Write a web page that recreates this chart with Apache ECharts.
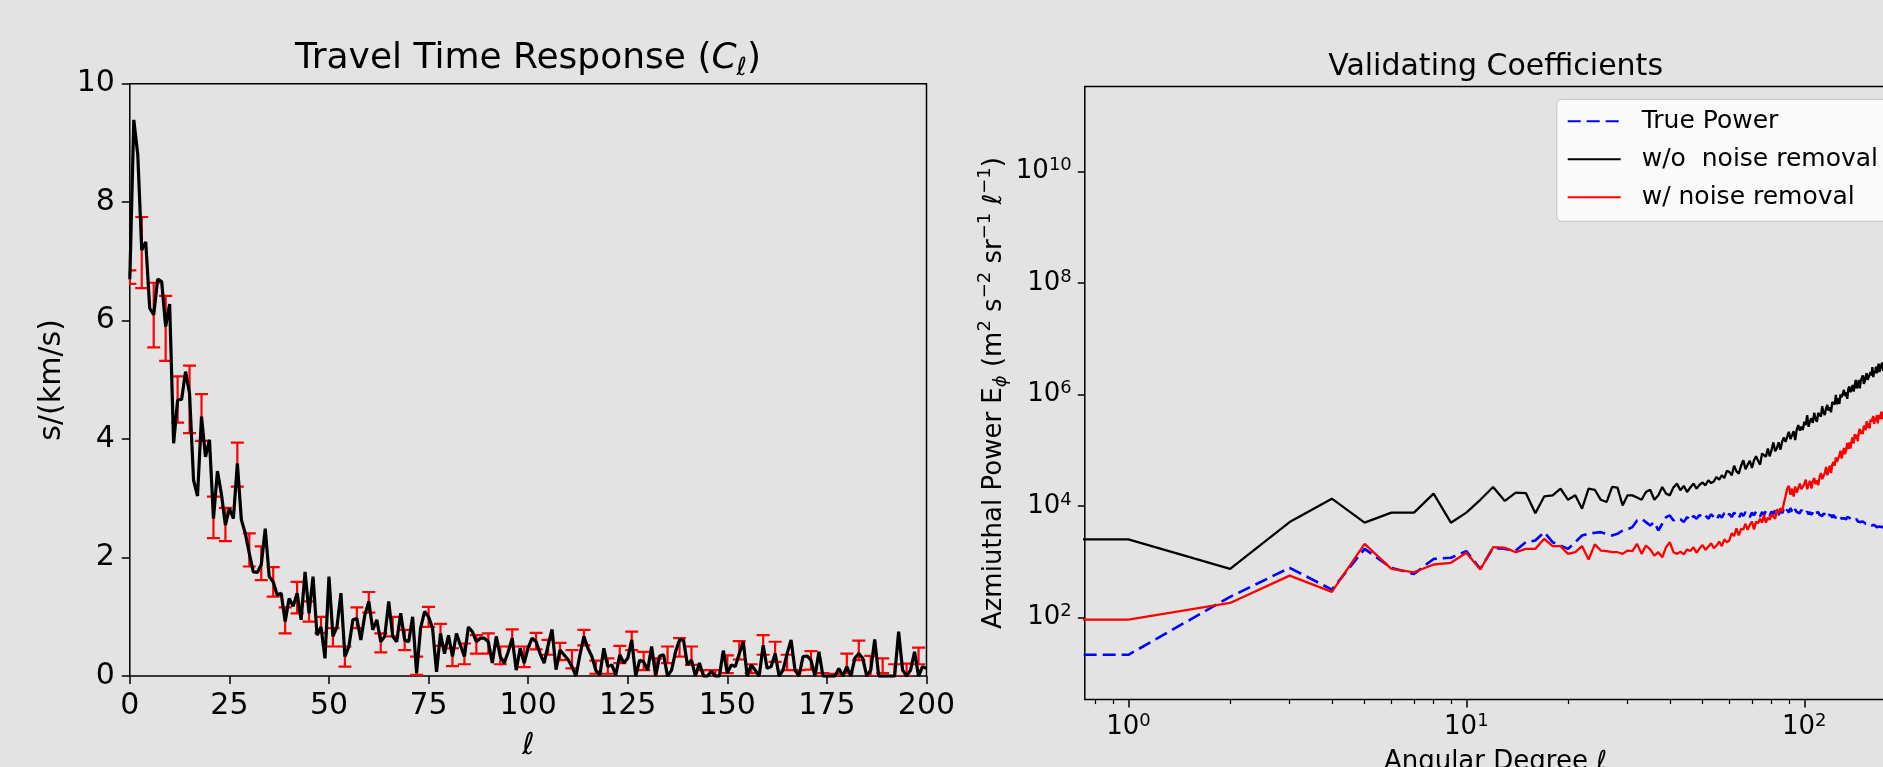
<!DOCTYPE html>
<html>
<head>
<meta charset="utf-8">
<script src="https://cdn.jsdelivr.net/npm/echarts@6.0.0/dist/echarts.min.js"></script>
<style>
  html, body { margin: 0; padding: 0; background: #e3e3e3; }
  #chart { width: 1883px; height: 767px; }
</style>
</head>
<body>
<div id="chart"></div>
<script>
// ---- left panel: travel time response C_l, l = 0..200 ----
var travelTime = [
  6.70, 9.39, 8.80, 7.19, 7.33, 6.21, 6.10, 6.70, 6.66, 5.90,
  6.28, 3.93, 4.66, 4.67, 5.14, 4.77, 3.31, 3.04, 4.38, 3.70,
  3.99, 2.66, 3.46, 3.07, 2.55, 2.83, 2.66, 3.59, 2.64, 2.41,
  2.07, 1.76, 1.75, 1.88, 2.49, 1.68, 1.59, 1.37, 1.40, 0.92,
  1.31, 1.18, 1.40, 0.95, 1.76, 1.06, 1.68, 0.69, 0.83, 0.30,
  1.68, 0.67, 0.83, 1.40, 0.33, 0.50, 0.95, 0.97, 0.61, 1.03,
  1.26, 0.78, 0.95, 0.58, 0.67, 1.26, 0.67, 0.58, 1.06, 0.61,
  0.58, 1.00, 0.05, 0.81, 1.09, 1.00, 0.81, 0.07, 0.72, 0.38,
  0.69, 0.33, 0.72, 0.52, 0.33, 0.83, 0.75, 0.58, 0.64, 0.64,
  0.58, 0.22, 0.67, 0.33, 0.22, 0.41, 0.64, 0.10, 0.47, 0.22,
  0.48, 0.64, 0.58, 0.38, 0.22, 0.52, 0.79, 0.11, 0.44, 0.36,
  0.28, 0.16, 0.00, 0.36, 0.67, 0.47, 0.33, 0.10, 0.02, 0.47,
  0.16, 0.19, 0.02, 0.36, 0.22, 0.30, 0.61, 0.00, 0.27, 0.24,
  0.10, 0.50, 0.00, 0.34, 0.36, 0.00, 0.10, 0.41, 0.61, 0.61,
  0.19, 0.27, 0.00, 0.22, 0.00, 0.00, 0.08, 0.00, 0.00, 0.43,
  0.05, 0.19, 0.16, 0.38, 0.58, 0.00, 0.19, 0.10, 0.00, 0.52,
  0.13, 0.16, 0.38, 0.00, 0.10, 0.38, 0.61, 0.10, 0.00, 0.33,
  0.34, 0.27, 0.00, 0.41, 0.00, 0.00, 0.00, 0.00, 0.13, 0.00,
  0.16, 0.00, 0.30, 0.38, 0.30, 0.00, 0.10, 0.62, 0.00, 0.00,
  0.00, 0.00, 0.00, 0.75, 0.10, 0.00, 0.10, 0.41, 0.00, 0.16,
  0.13
];
var errDegrees = [
  0, 3, 6, 9, 12, 15, 18, 21, 24, 27, 30, 33, 36, 39, 42, 45, 48,
  51, 54, 57, 60, 63, 66, 69, 72, 75, 78, 81, 84, 87, 90, 93, 96, 99,
  102, 105, 108, 111, 114, 117, 120, 123, 126, 129, 132, 135, 138, 141, 144, 147,
  150, 153, 156, 159, 162, 165, 168, 171, 174, 177, 180, 183, 186, 189, 192, 195, 198
];
var errLow = [
  6.62, 6.55, 5.55, 5.32, 4.28, 4.10, 3.97, 2.33, 2.28, 3.20, 1.85, 1.62, 1.34, 0.72, 1.06, 0.92, 0.73,
  0.50, 0.16, 0.81, 1.07, 0.40, 0.67, 0.44, 0.02, 0.83, 0.51, 0.17, 0.20, 0.38, 0.38, 0.20, 0.50, 0.15,
  0.45, 0.36, 0.27, 0.13, 0.52, 0.04, 0.04, 0.22, 0.44, 0.10, 0.00, 0.22, 0.33, 0.19, 0.00, 0.00,
  0.05, 0.28, 0.05, 0.36, 0.24, 0.10, 0.00, 0.11, 0.00, 0.00, 0.05, 0.27, 0.00, 0.05, 0.00, 0.00, 0.20
];
var errHigh = [
  6.85, 7.75, 6.64, 6.42, 5.06, 5.24, 4.76, 3.03, 2.84, 3.94, 2.41, 2.19, 1.84, 1.16, 1.59, 1.26, 1.00,
  0.81, 0.50, 1.16, 1.42, 0.72, 1.00, 0.78, 0.33, 1.17, 0.88, 0.47, 0.55, 0.69, 0.72, 0.50, 0.79, 0.50,
  0.73, 0.61, 0.56, 0.44, 0.78, 0.26, 0.30, 0.51, 0.75, 0.41, 0.30, 0.50, 0.64, 0.50, 0.10, 0.10,
  0.35, 0.59, 0.20, 0.69, 0.58, 0.36, 0.10, 0.42, 0.05, 0.04, 0.38, 0.60, 0.34, 0.30, 0.20, 0.21, 0.48
];

// ---- right panel: azimuthal power, stored as log10(E_phi), l = 0..175 ----
var truePowerLog = [
  1.33, 1.33, 2.37, 2.89, 2.50, 3.23, 2.89, 2.78, 3.05, 3.07,
  3.19, 2.87, 3.25, 3.23, 3.20, 3.35, 3.38, 3.53, 3.35, 3.29,
  3.23, 3.35, 3.47, 3.50, 3.52, 3.53, 3.50, 3.47, 3.50, 3.56,
  3.58, 3.62, 3.74, 3.77, 3.71, 3.65, 3.71, 3.56, 3.68, 3.80,
  3.83, 3.74, 3.78, 3.76, 3.71, 3.80, 3.74, 3.82, 3.77, 3.84,
  3.79, 3.83, 3.77, 3.85, 3.80, 3.75, 3.84, 3.79, 3.87, 3.81,
  3.86, 3.80, 3.88, 3.83, 3.78, 3.87, 3.82, 3.89, 3.84, 3.80,
  3.88, 3.83, 3.90, 3.85, 3.81, 3.89, 3.84, 3.91, 3.86, 3.82,
  3.90, 3.85, 3.93, 3.88, 3.84, 3.92, 3.87, 3.95, 3.89, 3.93,
  3.88, 3.96, 3.90, 3.86, 3.94, 3.89, 3.92, 3.87, 3.93, 3.88,
  3.91, 3.86, 3.90, 3.85, 3.89, 3.84, 3.88, 3.83, 3.87, 3.85,
  3.89, 3.84, 3.87, 3.82, 3.86, 3.83, 3.85, 3.80, 3.84, 3.81,
  3.83, 3.79, 3.84, 3.80, 3.83, 3.78, 3.82, 3.79, 3.81, 3.77,
  3.80, 3.78, 3.81, 3.76, 3.80, 3.77, 3.79, 3.75, 3.78, 3.74,
  3.77, 3.75, 3.73, 3.76, 3.72, 3.75, 3.71, 3.73, 3.70, 3.72,
  3.69, 3.71, 3.68, 3.70, 3.67, 3.69, 3.66, 3.68, 3.65, 3.67,
  3.64, 3.66, 3.63, 3.65, 3.62, 3.64, 3.61, 3.63, 3.60, 3.64,
  3.62, 3.63, 3.60, 3.62, 3.59, 3.61
];
var noisyPowerLog = [
  3.40, 3.40, 2.87, 3.71, 4.13, 3.70, 3.88, 3.88, 4.22, 3.70,
  3.88, 4.11, 4.34, 4.09, 4.24, 4.23, 3.87, 4.17, 4.19, 4.31,
  4.11, 4.19, 3.95, 4.31, 4.29, 4.11, 4.07, 4.34, 4.33, 4.01,
  4.19, 4.19, 4.15, 4.11, 4.25, 4.29, 4.11, 4.19, 4.34, 4.22,
  4.19, 4.33, 4.40, 4.28, 4.36, 4.25, 4.33, 4.40, 4.31, 4.38,
  4.42, 4.37, 4.46, 4.41, 4.44, 4.52, 4.47, 4.55, 4.50, 4.63,
  4.61, 4.55, 4.72, 4.62, 4.58, 4.72, 4.82, 4.66, 4.74, 4.81,
  4.68, 4.82, 4.89, 4.81, 4.74, 4.94, 4.91, 4.88, 5.03, 4.89,
  5.00, 5.14, 4.98, 5.04, 5.14, 5.01, 5.15, 5.23, 5.15, 5.14,
  5.33, 5.20, 5.27, 5.34, 5.18, 5.37, 5.45, 5.35, 5.42, 5.36,
  5.51, 5.45, 5.63, 5.42, 5.53, 5.57, 5.49, 5.67, 5.56, 5.51,
  5.67, 5.66, 5.60, 5.79, 5.67, 5.63, 5.75, 5.81, 5.71, 5.77,
  5.68, 5.86, 5.85, 5.82, 5.99, 5.82, 5.93, 5.83, 6.00, 5.95,
  5.92, 6.08, 5.97, 6.04, 5.92, 6.10, 6.14, 6.04, 6.10, 6.17,
  6.05, 6.16, 6.26, 6.11, 6.15, 6.26, 6.11, 6.25, 6.23, 6.34,
  6.19, 6.23, 6.33, 6.38, 6.26, 6.24, 6.35, 6.40, 6.34, 6.49,
  6.31, 6.42, 6.38, 6.50, 6.38, 6.48, 6.55, 6.40, 6.49, 6.46,
  6.57, 6.42, 6.57, 6.55, 6.50, 6.63
];
var cleanedPowerLog = [
  1.96, 1.96, 2.26, 2.75, 2.46, 3.32, 2.87, 2.81, 2.95, 2.98,
  3.16, 2.86, 3.26, 3.25, 3.17, 3.23, 3.23, 3.41, 3.28, 3.28,
  3.14, 3.17, 3.28, 3.04, 3.31, 3.20, 3.19, 3.17, 3.17, 3.14,
  3.20, 3.19, 3.32, 3.14, 3.29, 3.22, 3.11, 3.17, 3.08, 3.26,
  3.35, 3.17, 3.14, 3.18, 3.13, 3.22, 3.19, 3.26, 3.16, 3.24,
  3.30, 3.21, 3.27, 3.33, 3.24, 3.29, 3.36, 3.28, 3.40, 3.35,
  3.38, 3.51, 3.46, 3.60, 3.47, 3.59, 3.58, 3.68, 3.57, 3.66,
  3.72, 3.58, 3.72, 3.69, 3.77, 3.70, 3.84, 3.70, 3.79, 3.75,
  3.85, 3.83, 3.77, 3.94, 3.87, 3.96, 3.90, 4.05, 4.17, 4.31,
  4.36, 4.20, 4.31, 4.17, 4.35, 4.24, 4.32, 4.40, 4.30, 4.28,
  4.39, 4.47, 4.30, 4.39, 4.45, 4.31, 4.44, 4.50, 4.39, 4.46,
  4.37, 4.52, 4.59, 4.48, 4.47, 4.59, 4.70, 4.55, 4.64, 4.72,
  4.59, 4.74, 4.79, 4.72, 4.87, 4.79, 4.76, 4.91, 4.99, 4.85,
  4.95, 5.04, 4.93, 5.00, 5.13, 5.02, 5.14, 5.03, 5.16, 5.23,
  5.12, 5.29, 5.20, 5.28, 5.16, 5.33, 5.38, 5.29, 5.35, 5.29,
  5.44, 5.41, 5.36, 5.52, 5.40, 5.48, 5.39, 5.55, 5.51, 5.48,
  5.61, 5.47, 5.58, 5.53, 5.63, 5.48, 5.63, 5.60, 5.56, 5.69,
  5.56, 5.65, 5.69, 5.58, 5.66, 5.68
];
var powerTickExps = [2, 4, 6, 8, 10];
var degreeTickExps = [0, 1, 2];
var degreeMinorTicks = [0.8, 0.9, 2, 3, 4, 5, 6, 7, 8, 9, 20, 30, 40, 50, 60, 70, 80, 90];

function range(n) {
  var out = [];
  for (var i = 0; i < n; i++) out.push(i);
  return out;
}
var degrees = range(travelTime.length);
var powerDegrees = range(truePowerLog.length);

// l = 0 has no place on a log axis; it is put left of the axis and clipped, as matplotlib does
function logDegree(l) { return Math.log10(l === 0 ? 0.5 : l); }
function logPairs(vals) {
  return vals.map(function (v, i) { return [logDegree(powerDegrees[i]), v]; });
}

var font = 'DejaVu Sans';
var sup = { fontFamily: font, fontSize: 18, lineHeight: 18, verticalAlign: 'top', color: '#000' };
var noLine = { show: false, onZero: false };

var option = {
  backgroundColor: '#e3e3e3',
  animation: false,
  title: [{
    text: 'Travel Time Response ({it|C}{sb|ℓ})',
    left: 528,
    top: 37,
    padding: 0,
    textAlign: 'center',
    textStyle: {
      fontFamily: font, fontSize: 36, lineHeight: 44, fontWeight: 'normal', color: '#000',
      rich: {
        it: { fontFamily: font, fontSize: 36, lineHeight: 44, fontStyle: 'italic', color: '#000' },
        sb: { fontFamily: font, fontSize: 25, lineHeight: 25, fontStyle: 'italic', verticalAlign: 'bottom', color: '#000' }
      }
    }
  }, {
    text: 'Validating Coefficients',
    left: 1495.6,
    top: 52,
    padding: 0,
    textAlign: 'center',
    textStyle: { fontFamily: font, fontSize: 30, lineHeight: 30, fontWeight: 'normal', color: '#000' }
  }],
  legend: {
    data: ['True Power', 'w/o  noise removal', 'w/ noise removal'],
    orient: 'vertical',
    left: 1556.7,
    top: 99.3,
    padding: [7, 45, 9, 10],
    itemWidth: 53,
    itemHeight: 14,
    itemGap: 8,
    itemStyle: { color: 'rgba(0,0,0,0)', borderColor: 'rgba(0,0,0,0)', borderWidth: 0, opacity: 0 },
    backgroundColor: 'rgba(255,255,255,0.8)',
    borderColor: '#cccccc',
    borderWidth: 1.2,
    borderRadius: 5,
    textStyle: { fontFamily: font, fontSize: 25, lineHeight: 30, color: '#000', padding: [0, 0, 0, 16] }
  },
  grid: [
    { left: 129.8, top: 83.7, width: 796.7, height: 592.4, outerBoundsMode: 'none', show: true, borderColor: '#000', borderWidth: 1.5, backgroundColor: 'transparent' },
    { left: 1084.8, top: 86.6, width: 821.2, height: 613, outerBoundsMode: 'none', show: true, borderColor: '#000', borderWidth: 1.5, backgroundColor: 'transparent' }
  ],
  xAxis: [{
    gridIndex: 0,
    type: 'value',
    min: 0, max: 200, interval: 25,
    name: 'ℓ',
    nameLocation: 'middle',
    nameGap: 55,
    nameTextStyle: { fontFamily: font, fontSize: 30, fontStyle: 'italic', color: '#000' },
    axisLine: noLine,
    axisTick: { length: 8, lineStyle: { color: '#000', width: 1.5 } },
    axisLabel: { margin: 15, fontFamily: font, fontSize: 30, color: '#000' },
    splitLine: { show: false }
  }, {
    gridIndex: 1,
    type: 'value',
    min: -0.129, max: 2.301,
    name: 'Angular Degree ℓ',
    nameLocation: 'middle',
    nameGap: 50,
    nameTextStyle: { fontFamily: font, fontSize: 26, color: '#000' },
    axisLine: noLine,
    axisTick: { length: 8, customValues: degreeTickExps, lineStyle: { color: '#000', width: 1.5 } },
    axisLabel: {
      customValues: degreeTickExps,
      margin: 13,
      fontFamily: font, fontSize: 26, lineHeight: 30, color: '#000',
      formatter: function (v) { return '10{s|' + v + '}'; },
      rich: { s: sup }
    },
    splitLine: { show: false }
  }, {
    gridIndex: 1,
    type: 'value',
    position: 'bottom',
    min: -0.129, max: 2.301,
    axisLine: noLine,
    axisTick: { length: 4.5, customValues: degreeMinorTicks.map(Math.log10), lineStyle: { color: '#000', width: 1.2 } },
    axisLabel: { show: false },
    splitLine: { show: false }
  }],
  yAxis: [{
    gridIndex: 0,
    type: 'value',
    min: 0, max: 10, interval: 2,
    name: 's/(km/s)',
    nameLocation: 'middle',
    nameGap: 63,
    nameTextStyle: { fontFamily: font, fontSize: 30, color: '#000' },
    axisLine: noLine,
    axisTick: { length: 8, lineStyle: { color: '#000', width: 1.5 } },
    axisLabel: { margin: 15, fontFamily: font, fontSize: 30, color: '#000' },
    splitLine: { show: false }
  }, {
    gridIndex: 1,
    type: 'value',
    min: 0.527, max: 11.52,
    name: 'Azmiuthal Power E{sb|ϕ} (m{sp|2} s{sp|−2} sr{sp|−1} {it|ℓ}{sp|−1})',
    nameLocation: 'middle',
    nameGap: 74,
    nameTextStyle: {
      fontFamily: font, fontSize: 26, lineHeight: 34, color: '#000',
      rich: {
        sp: sup,
        sb: { fontFamily: font, fontSize: 18, lineHeight: 18, verticalAlign: 'bottom', fontStyle: 'italic', color: '#000' },
        it: { fontFamily: font, fontSize: 26, lineHeight: 34, fontStyle: 'italic', color: '#000' }
      }
    },
    axisLine: noLine,
    axisTick: { length: 7, customValues: powerTickExps, lineStyle: { color: '#000', width: 1.5 } },
    axisLabel: {
      customValues: powerTickExps,
      margin: 13,
      fontFamily: font, fontSize: 26, lineHeight: 30, color: '#000',
      formatter: function (v) { return '10{s|' + v + '}'; },
      rich: { s: sup }
    },
    splitLine: { show: false }
  }],
  series: [{
    name: 'error bars',
    type: 'custom',
    xAxisIndex: 0,
    yAxisIndex: 0,
    clip: true,
    data: errDegrees.map(function (l, i) { return [l, errLow[i], errHigh[i]]; }),
    renderItem: function (params, api) {
      var lo = api.coord([api.value(0), api.value(1)]);
      var hi = api.coord([api.value(0), api.value(2)]);
      var cap = 6.5;
      var style = { stroke: '#ff0000', lineWidth: 2.2 };
      return {
        type: 'group',
        children: [
          { type: 'line', shape: { x1: lo[0], y1: lo[1], x2: hi[0], y2: hi[1] }, style: style },
          { type: 'line', shape: { x1: lo[0] - cap, y1: lo[1], x2: lo[0] + cap, y2: lo[1] }, style: style },
          { type: 'line', shape: { x1: hi[0] - cap, y1: hi[1], x2: hi[0] + cap, y2: hi[1] }, style: style }
        ]
      };
    }
  }, {
    name: 'C_l',
    type: 'line',
    xAxisIndex: 0,
    yAxisIndex: 0,
    symbol: 'none',
    data: degrees.map(function (l, i) { return [l, travelTime[i]]; }),
    lineStyle: { color: '#000', width: 3.2 }
  }, {
    name: 'True Power',
    type: 'line',
    xAxisIndex: 1,
    yAxisIndex: 1,
    symbol: 'none',
    data: logPairs(truePowerLog),
    itemStyle: { color: '#0000ff' },
    lineStyle: { color: '#0000ff', width: 2.6, type: [13, 6] }
  }, {
    name: 'w/o  noise removal',
    type: 'line',
    xAxisIndex: 1,
    yAxisIndex: 1,
    symbol: 'none',
    data: logPairs(noisyPowerLog),
    itemStyle: { color: '#000' },
    lineStyle: { color: '#000', width: 2.3 }
  }, {
    name: 'w/ noise removal',
    type: 'line',
    xAxisIndex: 1,
    yAxisIndex: 1,
    symbol: 'none',
    data: logPairs(cleanedPowerLog),
    itemStyle: { color: '#ff0000' },
    lineStyle: { color: '#ff0000', width: 2.3 }
  }]
};

var chart = echarts.init(document.getElementById('chart'));
chart.setOption(option);
</script>
</body>
</html>
